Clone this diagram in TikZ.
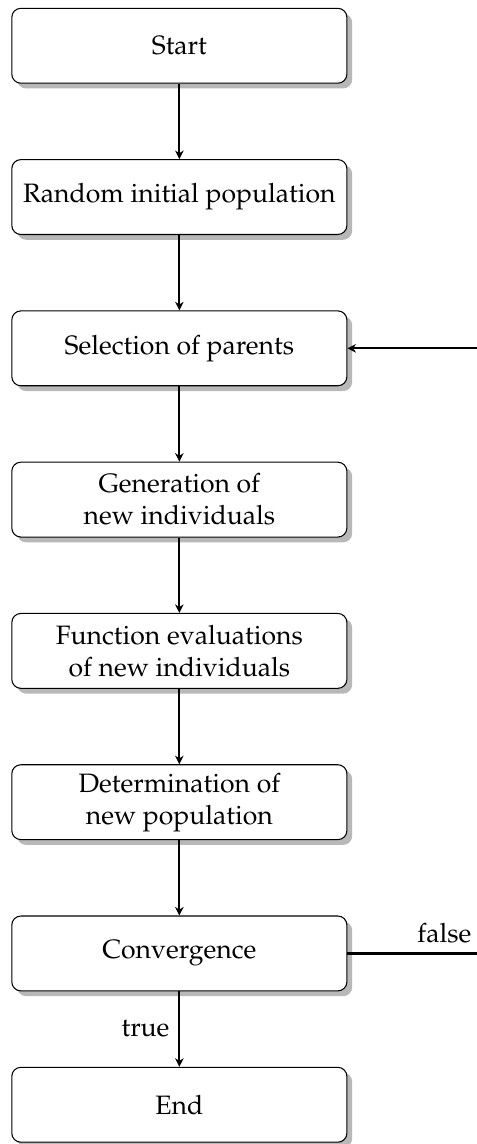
\documentclass[tikz,border=0pt]{standalone}
\usepackage[T1]{fontenc}
\usepackage{mathpazo}
\usetikzlibrary{shadows,calc,arrows.meta}

\tikzset{
  flowbox/.style={draw, rounded corners=0.12cm, fill=white, align=center,
    minimum width=4.43cm, minimum height=0.99cm, inner sep=2pt,
    drop shadow={shadow xshift=0.07cm, shadow yshift=-0.07cm, fill=black!28, opacity=1}},
  flow/.style={-{Stealth[length=3.2pt, width=3.2pt, inset=1pt]}, thick}
}

\begin{document}
\begin{tikzpicture}
  \useasboundingbox (0,0) rectangle (6.293,-15.124);

  \node[flowbox] (start) at (2.371,-0.605)  {Start};
  \node[flowbox] (init)  at (2.371,-2.605)  {Random initial population};
  \node[flowbox] (sel)   at (2.371,-4.605)  {Selection of parents};
  \node[flowbox] (gen)   at (2.371,-6.605)  {Generation of\\new individuals};
  \node[flowbox] (eval)  at (2.371,-8.605)  {Function evaluations\\of new individuals};
  \node[flowbox] (det)   at (2.371,-10.605) {Determination of\\new population};
  \node[flowbox] (conv)  at (2.371,-12.605) {Convergence};
  \node[flowbox] (stop)  at (2.371,-14.605) {End};

  % column of the return path back to the selection step
  \coordinate (loop) at (6.45,0);

  \draw[flow] (start) -- (init);
  \draw[flow] (init) -- (sel);
  \draw[flow] (sel) -- (gen);
  \draw[flow] (gen) -- (eval);
  \draw[flow] (eval) -- (det);
  \draw[flow] (det) -- (conv);
  \draw[flow] (conv) -- node[left] {true} (stop);
  \draw[flow] (conv.east) -- node[above, pos=0.69] {false} (conv.east -| loop)
    |- (sel.east);
\end{tikzpicture}
\end{document}
